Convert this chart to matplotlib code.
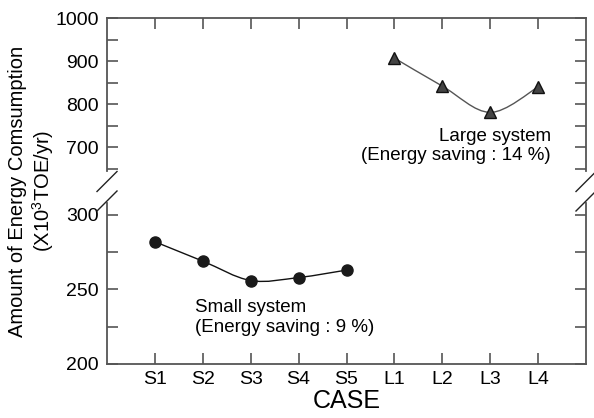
import matplotlib
matplotlib.use("Agg")
import matplotlib.pyplot as plt
from matplotlib.path import Path
from matplotlib.patches import PathPatch
from matplotlib.lines import Line2D
import numpy as np

plt.rcParams['font.family'] = ['Liberation Sans', 'DejaVu Sans']
plt.rcParams['mathtext.fontset'] = 'custom'
plt.rcParams['mathtext.rm'] = 'Liberation Sans'
plt.rcParams['mathtext.it'] = 'Liberation Sans'

cases = ['S1', 'S2', 'S3', 'S4', 'S5', 'L1', 'L2', 'L3', 'L4']
small_x = [1, 2, 3, 4, 5]
small_y = [282, 269, 256, 258, 263]
large_x = [6, 7, 8, 9]
large_y = [907, 842, 781, 840]

spine_c = '#555555'


def smooth_path(xs, ys):
    # catmull-rom through the points, drawn as bezier segments
    p = np.column_stack([xs, ys]).astype(float)
    pts = np.vstack([p[0], p, p[-1]])
    verts = [tuple(p[0])]
    codes = [Path.MOVETO]
    for i in range(1, len(pts) - 2):
        p0, p1, p2, p3 = pts[i - 1], pts[i], pts[i + 1], pts[i + 2]
        c1 = p1 + (p2 - p0) / 6.0
        c2 = p2 - (p3 - p1) / 6.0
        verts += [tuple(c1), tuple(c2), tuple(p2)]
        codes += [Path.CURVE4] * 3
    return Path(verts, codes)


fig = plt.figure(figsize=(5.94, 4.18), dpi=100)
W, H = 594.0, 418.0
x0, x1 = 107 / W, 586 / W
ax_top = fig.add_axes([x0, 1 - 171 / H, x1 - x0, (171 - 18) / H])
ax_bot = fig.add_axes([x0, 1 - 364 / H, x1 - x0, (364 - 203) / H])

for ax in (ax_top, ax_bot):
    ax.set_xlim(0, 10)
    ax.set_xticks(range(1, 10))
    for s in ax.spines.values():
        s.set_color(spine_c)
        s.set_linewidth(1.3)
    ax.tick_params(direction='in', length=8, width=1.2, color=spine_c,
                   labelsize=14, right=True, top=True)
    ax.tick_params(axis='y', pad=6)
    ax.tick_params(axis='x', pad=5)

ax_top.set_ylim(645, 1000)
ax_top.set_yticks([700, 800, 900, 1000])
ax_top.set_yticks([650, 750, 850, 950], minor=True)
ax_top.tick_params(which='minor', direction='in', length=8, width=1.2,
                   color=spine_c, right=True)
ax_top.spines['bottom'].set_visible(False)
ax_top.tick_params(axis='x', bottom=False, labelbottom=False)

ax_bot.set_ylim(200, 308)
ax_bot.set_yticks([200, 250, 300])
ax_bot.set_yticks([225, 275], minor=True)
ax_bot.tick_params(which='minor', direction='in', length=8, width=1.2,
                   color=spine_c, right=True)
ax_bot.spines['top'].set_visible(False)
ax_bot.tick_params(axis='x', top=False)
ax_bot.set_xticklabels(cases)
ax_bot.set_xlabel('CASE', fontsize=18, labelpad=1)

# small system
ax_bot.add_patch(PathPatch(smooth_path(small_x, small_y), fill=False,
                           edgecolor='#111111', lw=1.0))
ax_bot.plot(small_x, small_y, 'o', color='#1a1a1a', markersize=8)
ax_bot.text(1.83, 231, 'Small system\n(Energy saving : 9 %)', fontsize=13.5,
            ha='left', va='center', linespacing=1.2)

# large system
ax_top.add_patch(PathPatch(smooth_path(large_x, large_y), fill=False,
                           edgecolor='#555555', lw=1.0))
ax_top.plot(large_x, large_y, '^', markerfacecolor='#444444',
            markeredgecolor='#111111', markersize=8.5)
ax_top.text(9.27, 703, 'Large system\n(Energy saving : 14 %)', fontsize=13.5,
            ha='right', va='center', linespacing=1.2, multialignment='right')

fig.text(32 / W, 1 - 191 / H,
         'Amount of Energy Comsumption\n(X10$^3$TOE/yr)',
         rotation=90, ha='center', va='center', fontsize=14.5,
         multialignment='center', linespacing=1.15)

# break marks
for xc in (107, 586):
    for yc in (181.5, 201):
        fig.add_artist(Line2D([(xc - 10) / W, (xc + 10) / W],
                              [1 - (yc + 10) / H, 1 - (yc - 10) / H],
                              color='#222222', lw=1.0))

fig.savefig('out.png', dpi=100)
